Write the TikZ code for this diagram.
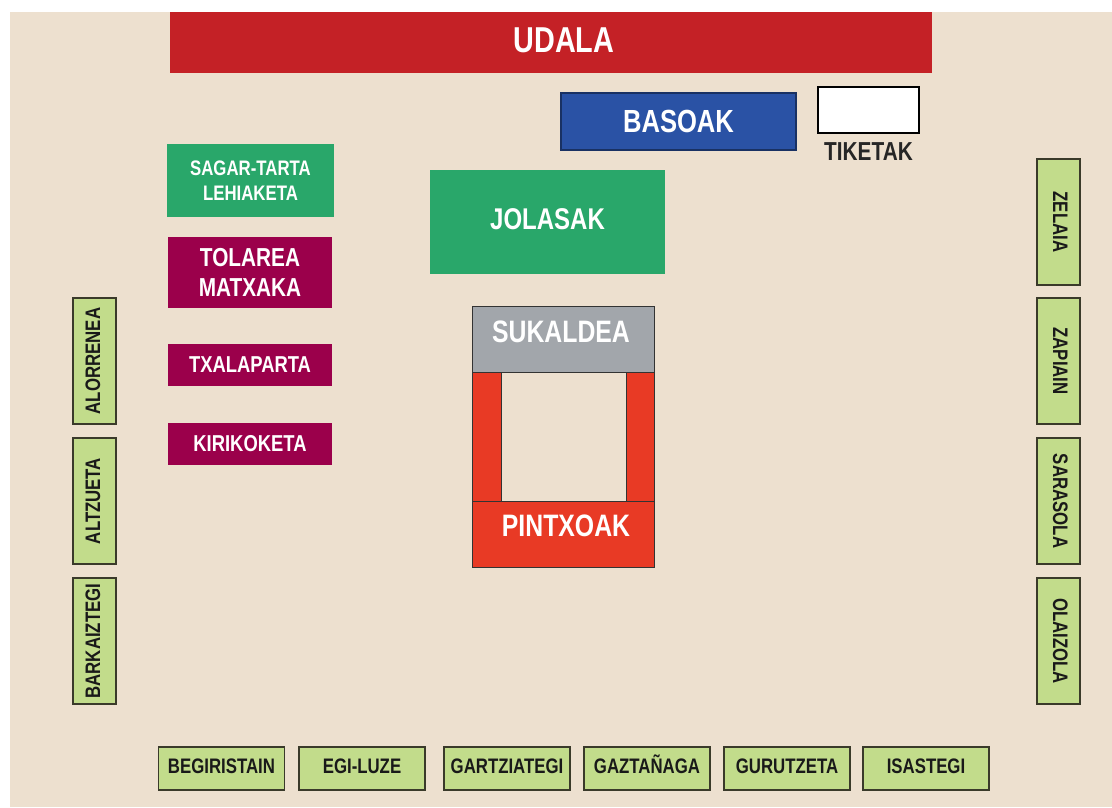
\documentclass[tikz,border=0pt]{standalone}
\usepackage{fontspec}
\setmainfont{Liberation Sans}[FakeStretch=0.8]
\usetikzlibrary{positioning}

\definecolor{ground}{HTML}{EDE0CF}
\definecolor{udalared}{HTML}{C42126}
\definecolor{basoblue}{HTML}{2A52A5}
\definecolor{jolasgreen}{HTML}{29A76A}
\definecolor{tolpurple}{HTML}{9B004B}
\definecolor{sukgray}{HTML}{A2A6AB}
\definecolor{pintxored}{HTML}{E83A25}
\definecolor{stallgreen}{HTML}{C2DC8B}
\definecolor{stallline}{HTML}{3A3A2A}

\begin{document}
\begin{tikzpicture}[x=1pt, y=-1pt,
  box/.style={inner sep=0pt, outer sep=0pt, text=white, font=\bfseries},
  stall/.style={box, fill=stallgreen, draw=stallline, line width=1.4pt, text=black!90,
    font=\bfseries\fontsize{21}{21}\selectfont, minimum width=126pt, minimum height=43pt,
    text height=15pt, text depth=4pt}]

\useasboundingbox (0,0) rectangle (1112,807);
\fill[white] (0,0) rectangle (1112,807);
\fill[ground] (10,12) rectangle (1112,807);

% top row
\node[box, fill=udalared, minimum width=762pt, minimum height=61pt] (udala) at (551,42.5) {};
\node[box, font=\bfseries\fontsize{36}{36}\selectfont] at ([xshift=13pt, yshift=2.5pt]udala.center) {UDALA};
\node[box, fill=basoblue, draw=basoblue!60!black, line width=1.2pt, minimum width=235pt, minimum height=57pt,
  font=\bfseries\fontsize{32}{32}\selectfont] (basoak) at (678.5,121.5) {BASOAK};
\node[box, fill=white, draw=black, line width=1.5pt, minimum width=101pt, minimum height=46pt] (tiketak) at (868.5,110) {};
\node[box, text=black!85, font=\bfseries\fontsize{26}{26}\selectfont, below=10pt of tiketak] (tiklbl) {TIKETAK};

% left column of activities
\node[box, fill=jolasgreen, minimum width=167pt, minimum height=73pt, align=center,
  font=\bfseries\fontsize{21}{25}\selectfont] (sagar) at (250.5,180.5) {SAGAR-TARTA\\LEHIAKETA};
\node[box, fill=tolpurple, minimum width=164pt, minimum height=71pt, align=center,
  font=\bfseries\fontsize{26}{30}\selectfont] (tolarea) at (250,272.5) {TOLAREA\\MATXAKA};
\node[box, fill=tolpurple, minimum width=164pt, minimum height=42pt,
  font=\bfseries\fontsize{23}{23}\selectfont] (txalaparta) at (250,365) {TXALAPARTA};
\node[box, fill=tolpurple, minimum width=164pt, minimum height=42pt,
  font=\bfseries\fontsize{23}{23}\selectfont] (kirikoketa) at (250,444) {KIRIKOKETA};

\node[box, fill=jolasgreen, minimum width=235pt, minimum height=104pt, text depth=6pt,
  font=\bfseries\fontsize{30}{30}\selectfont] (jolasak) at (547.5,222) {JOLASAK};

% kitchen and pintxo bar
\filldraw[fill=pintxored, draw=black!80, line width=0.8pt] (472,372) rectangle (501,501);
\filldraw[fill=pintxored, draw=black!80, line width=0.8pt] (626,372) rectangle (654,501);
\node[box, fill=sukgray, draw=black!80, line width=0.8pt, minimum width=182pt, minimum height=66pt] (sukaldea) at (563,339) {};
\node[box, font=\bfseries\fontsize{31}{31}\selectfont] at ([xshift=-2pt, yshift=7pt]sukaldea.center) {SUKALDEA};
\node[box, fill=pintxored, draw=black!80, line width=0.8pt, minimum width=182pt, minimum height=66pt] (pintxoak) at (563,534) {};
\node[box, font=\bfseries\fontsize{31}{31}\selectfont] at ([xshift=3pt, yshift=8pt]pintxoak.center) {PINTXOAK};

% stalls
\foreach \nm [count=\i] / \yc in {ALORRENEA/361, ALTZUETA/501, BARKAIZTEGI/641}
  \node[stall, rotate=90] (w\i) at (94.5,\yc) {\nm};

\foreach \nm [count=\i] / \yc in {ZELAIA/222, ZAPIAIN/361, SARASOLA/501, OLAIZOLA/641}
  \node[stall, rotate=-90] (e\i) at (1058.5,\yc) {\nm};

\foreach \nm [count=\i] / \xc in {BEGIRISTAIN/221.5, EGI-LUZE/362, GARTZIATEGI/507, GAZTAÑAGA/647, GURUTZETA/787, ISASTEGI/926}
  \node[stall, text depth=6pt] (s\i) at (\xc,768.5) {\nm};

\end{tikzpicture}
\end{document}
